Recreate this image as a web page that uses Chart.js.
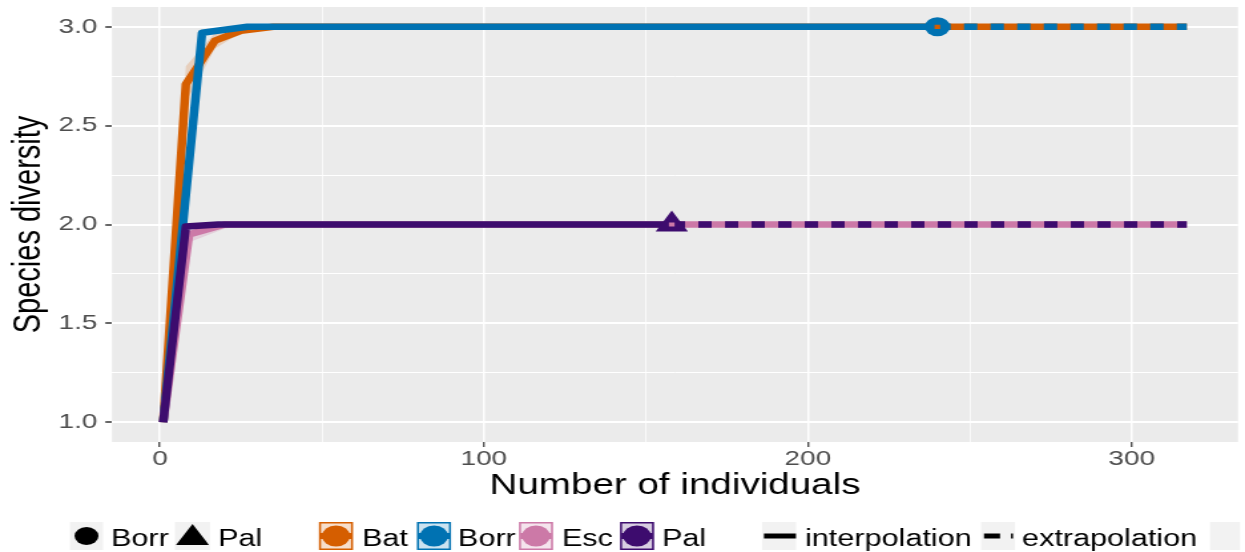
<!DOCTYPE html>
<html>
<head>
<meta charset="utf-8">
<script src="https://cdn.jsdelivr.net/npm/chart.js@4/dist/chart.umd.min.js"></script>
<style>
  html, body { margin: 0; background: #fff; }
  #chart { display: block; }
</style>
</head>
<body>
<!-- the reference is stretched sideways, so the canvas is drawn narrow and widened by CSS -->
<canvas id="chart" width="936" height="552" style="width:1245px;height:552px"></canvas>
<script>
const S = 1245 / 936;          // horizontal stretch of the picture
const X = v => v / S;           // picture px -> canvas px

// site colours
const colBat = "#D55E00";
const colBorr = "#0072B2";
const colEsc = "#CC79A7";
const colPal = "#3D0C6E";

// interpolated (rarefaction) curves
const batX = [1, 8, 17, 25, 35, 240];
const batY = [1, 2.71, 2.93, 2.98, 3.0, 3.0];
const borrX = [1, 13, 27, 240];
const borrY = [1, 2.97, 3.0, 3.0];
const escX = [1, 9, 20, 158];
const escY = [1, 1.95, 2.0, 2.0];
const palX = [1, 8, 18, 158];
const palY = [1, 1.99, 2.0, 2.0];

// extrapolated curves
const batExtX = [240, 317];
const batExtY = [3.0, 3.0];
const borrExtX = [240, 317];
const borrExtY = [3.0, 3.0];
const escExtX = [158, 317];
const escExtY = [2.0, 2.0];
const palExtX = [158, 317];
const palExtY = [2.0, 2.0];

// confidence bands
const batCiX = [1, 8, 17, 25, 35];
const batLo = [1, 2.62, 2.89, 2.97, 3.0];
const batHi = [1, 2.80, 2.97, 3.0, 3.0];
const escCiX = [1, 9, 20, 30];
const escLo = [1, 1.91, 1.98, 2.0];
const escHi = [1, 1.99, 2.0, 2.0];

// observed samples
const obsBorr = [240, 3.0];
const obsBat = [240, 3.0];
const obsPal = [158, 2.0];
const obsEsc = [158, 2.0];

// axis ticks
const xTicks = [0, 100, 200, 300];
const xMinor = [50, 150, 250];
const yTicks = [1.0, 1.5, 2.0, 2.5, 3.0];
const yMinor = [1.25, 1.75, 2.25, 2.75];

const xy = (xs, ys) => xs.map((x, i) => ({ x: x, y: ys[i] }));

function curve(data, color, dash) {
  return {
    data: data,
    borderColor: color,
    borderWidth: 6.5,
    borderDash: dash || [],
    borderJoinStyle: "round",
    pointRadius: 0,
    fill: false,
    tension: 0,
  };
}

function band(data, color, fill) {
  return {
    data: data,
    borderWidth: 0,
    borderColor: "rgba(0,0,0,0)",
    backgroundColor: color,
    pointRadius: 0,
    fill: fill,
    tension: 0,
  };
}

function marker(p, color, style, r) {
  return {
    data: [{ x: p[0], y: p[1] }],
    showLine: false,
    pointStyle: style,
    pointRadius: r,
    pointBackgroundColor: color,
    pointBorderWidth: 0,
  };
}

// listed bottom to top
const layers = [
  band(xy(batCiX, batHi), "rgba(213,94,0,0.2)", "+1"),
  band(xy(batCiX, batLo), "rgba(0,0,0,0)", false),
  band(xy(escCiX, escHi), "rgba(204,121,167,0.25)", "+1"),
  band(xy(escCiX, escLo), "rgba(0,0,0,0)", false),
  curve(xy(batX, batY), colBat),
  curve(xy(batExtX, batExtY), colBat),
  curve(xy(borrX, borrY), colBorr),
  curve(xy(borrExtX, borrExtY), colBorr, [10, 10]),
  curve(xy(escX, escY), colEsc),
  curve(xy(escExtX, escExtY), colEsc),
  curve(xy(palX, palY), colPal),
  curve(xy(palExtX, palExtY), colPal, [10, 10]),
  marker(obsBorr, colBorr, "circle", 9.5),
  marker(obsBat, colBat, "rect", 3),
  marker(obsPal, colPal, "triangle", 14),
  marker(obsEsc, colEsc, "rect", 3),
];
layers.forEach((d, i) => { d.order = layers.length - i; });

const panelBg = {
  id: "panelBg",
  beforeDraw(chart) {
    const { ctx, chartArea: a } = chart;
    ctx.save();
    ctx.fillStyle = "#EBEBEB";
    ctx.fillRect(a.left, a.top, a.right - a.left, a.bottom - a.top);
    ctx.restore();
  },
};

// ggplot-style legend at the bottom (positions given in picture px)
const ggLegend = {
  id: "ggLegend",
  afterDraw(chart) {
    const ctx = chart.ctx;
    const top = 522, h = 28, mid = top + h / 2, base = 546;
    ctx.save();
    ctx.font = '23px "Liberation Sans", Arial, sans-serif';
    ctx.textBaseline = "alphabetic";

    const keyBox = (x0, x1) => {
      ctx.fillStyle = "#F2F2F2";
      ctx.fillRect(X(x0), top, X(x1) - X(x0), h);
    };
    const label = (t, x) => {
      ctx.fillStyle = "#000";
      ctx.fillText(t, X(x), base);
    };

    // shape legend
    keyBox(70, 103);
    ctx.fillStyle = "#000";
    ctx.beginPath();
    ctx.arc(X(86.5), mid, 9, 0, Math.PI * 2);
    ctx.fill();
    label("Borr", 111);
    keyBox(175, 210);
    ctx.fillStyle = "#000";
    ctx.beginPath();
    ctx.moveTo(X(192.5), mid - 12);
    ctx.lineTo(X(209), mid + 9);
    ctx.lineTo(X(176), mid + 9);
    ctx.closePath();
    ctx.fill();
    label("Pal", 218);

    // colour legend
    const sites = [
      ["Bat", colBat, "rgba(213,94,0,0.2)", 319, 362],
      ["Borr", colBorr, "rgba(0,114,178,0.2)", 417, 458],
      ["Esc", colEsc, "rgba(204,121,167,0.2)", 519, 562],
      ["Pal", colPal, "rgba(61,12,110,0.2)", 620, 662],
    ];
    sites.forEach(([name, c, f, bx, tx]) => {
      const x0 = X(bx), w = X(bx + 34) - x0;
      ctx.fillStyle = "#fff";
      ctx.fillRect(x0, top, w, h);
      ctx.fillStyle = f;
      ctx.fillRect(x0, top, w, h);
      ctx.strokeStyle = c;
      ctx.lineWidth = 1.5;
      ctx.strokeRect(x0 + 0.75, top + 0.75, w - 1.5, h - 1.5);
      ctx.fillStyle = c;
      ctx.fillRect(x0 + 1, mid - 3, w - 2, 6);
      ctx.beginPath();
      ctx.arc(x0 + w / 2, mid, 10.5, 0, Math.PI * 2);
      ctx.fill();
      label(name, tx);
    });

    // line type legend
    keyBox(762, 796);
    ctx.fillStyle = "#000";
    ctx.fillRect(X(764), mid - 2.5, X(796) - X(764), 5);
    label("interpolation", 805);
    keyBox(981, 1015);
    ctx.fillStyle = "#000";
    ctx.fillRect(X(984), mid - 2.5, X(1000) - X(984), 5);
    ctx.fillRect(X(1011), mid - 2.5, X(1013) - X(1011), 5);
    label("extrapolation", 1022);
    keyBox(1210, 1240);
    ctx.restore();
  },
};

const isIn = (list, v) => list.some(m => Math.abs(m - v) < 1e-9);

new Chart(document.getElementById("chart").getContext("2d"), {
  type: "line",
  data: { datasets: layers },
  plugins: [panelBg, ggLegend],
  options: {
    responsive: false,
    maintainAspectRatio: false,
    devicePixelRatio: 1,
    animation: false,
    layout: { autoPadding: false, padding: { top: 7, right: 936 - X(1238), bottom: 45, left: 0 } },
    plugins: { legend: { display: false }, tooltip: { enabled: false } },
    scales: {
      x: {
        type: "linear",
        min: -14.8,
        max: 332.8,
        afterBuildTicks: s => {
          s.ticks = xTicks.concat(xMinor).sort((a, b) => a - b).map(v => ({ value: v }));
        },
        afterFit: s => {
          s.height = 65;
          s.paddingLeft = 0;
          s.paddingRight = 0;
        },
        border: { display: false },
        grid: {
          color: "#fff",
          lineWidth: c => (c.tick && isIn(xMinor, c.tick.value) ? 0.75 : 1.5),
          tickColor: c => (c.tick && isIn(xMinor, c.tick.value) ? "rgba(0,0,0,0)" : "#333"),
          tickWidth: 1.2,
          tickLength: 5,
        },
        ticks: {
          autoSkip: false,
          maxRotation: 0,
          padding: 0,
          color: "#4D4D4D",
          font: { family: '"Liberation Sans", Arial, sans-serif', size: 21 },
          callback: v => (isIn(xMinor, v) ? "" : String(v)),
        },
        title: {
          display: true,
          text: "Number of individuals",
          color: "#000",
          font: { family: '"Liberation Sans", Arial, sans-serif', size: 29 },
          padding: { top: 0, bottom: 3.6 },
        },
      },
      y: {
        type: "linear",
        min: 0.9,
        max: 3.1,
        afterBuildTicks: s => {
          s.ticks = yTicks.concat(yMinor).sort((a, b) => a - b).map(v => ({ value: v }));
        },
        afterFit: s => {
          s.width = X(112);
          s.paddingTop = 0;
          s.paddingBottom = 0;
        },
        border: { display: false },
        grid: {
          color: "#fff",
          lineWidth: c => (c.tick && isIn(yMinor, c.tick.value) ? 1 : 2),
          tickColor: c => (c.tick && isIn(yMinor, c.tick.value) ? "rgba(0,0,0,0)" : "#333"),
          tickWidth: 1.5,
          tickLength: 5,
        },
        ticks: {
          autoSkip: false,
          padding: 6,
          color: "#4D4D4D",
          font: { family: '"Liberation Sans", Arial, sans-serif', size: 21 },
          callback: v => (isIn(yMinor, v) ? "" : v.toFixed(1)),
        },
        title: {
          display: true,
          text: "Species diversity",
          color: "#000",
          font: { family: '"Liberation Sans", Arial, sans-serif', size: 29 },
          padding: { top: 4.4, bottom: 0 },
        },
      },
    },
  },
});
</script>
</body>
</html>
